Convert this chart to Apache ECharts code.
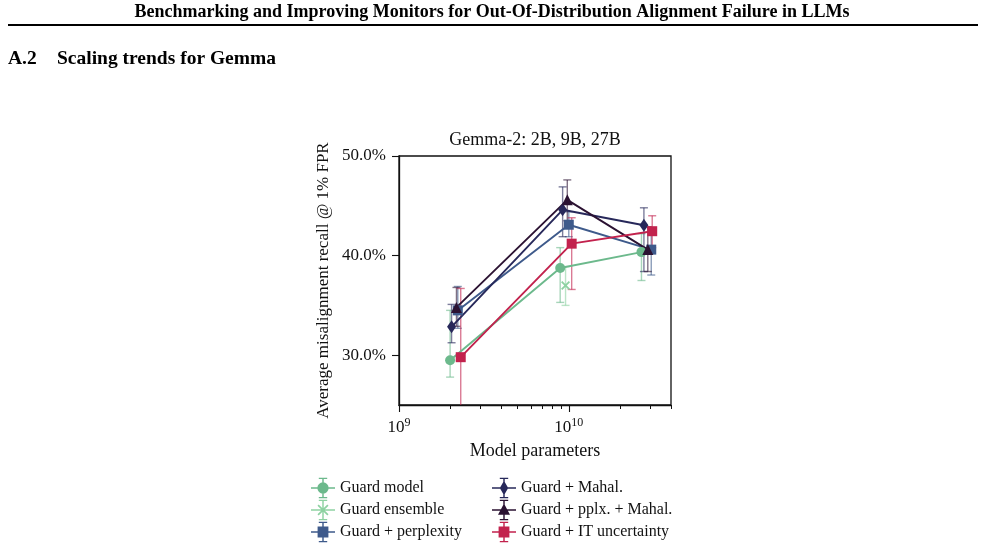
<!DOCTYPE html>
<html>
<head>
<meta charset="utf-8">
<script src="https://cdn.jsdelivr.net/npm/echarts@6/dist/echarts.min.js"></script>
<style>
html,body{margin:0;padding:0;background:#fff;}
#main{width:985px;height:547px;}
</style>
</head>
<body>
<div id="main"></div>
<script>
// model sizes (jittered per method) and recall values
var guardX=[2.0e9,8.9e9,2.68e10];
var guardY=[29.5,38.75,40.35];
var guardLo=[27.8,35.3,37.5];
var guardHi=[34.5,40.8,42.2];

var ensX=[9.57e9];
var ensY=[37.0];
var ensLo=[35.0];
var ensHi=[38.9];

var pplX=[2.22e9,1.0e10,3.06e10];
var pplY=[34.5,43.1,40.6];
var pplLo=[32.7,41.9,38.05];
var pplHi=[36.9,44.4,42.8];

var mahX=[2.04e9,9.2e9,2.77e10];
var mahY=[32.85,44.6,43.05];
var mahLo=[31.25,41.9,38.4];
var mahHi=[35.1,46.9,44.8];

var pmX=[2.18e9,9.8e9,2.92e10];
var pmY=[34.8,45.6,40.6];
var pmLo=[32.9,43.5,38.4];
var pmHi=[36.8,47.6,42.9];

var itX=[2.31e9,1.04e10,3.1e10];
var itY=[29.8,41.2,42.45];
var itLo=[22.5,36.6,40.8];
var itHi=[36.7,43.8,44.0];

var xMin=1e9, xMax=4e10;
var xMajor=[1e9,1e10];
var xMinor=[2e9,3e9,4e9,5e9,6e9,7e9,8e9,9e9,2e10,3e10,4e10];
var yTicks=[30,40,50];

function lg(v){return Math.log10(v);}

// legend icons: line + error bar + marker, in a 20x18 box
var base='M0 8.3H20V9.7H0Z M9.4 1H10.6V17H9.4Z M6.5 0.4H13.5V1.6H6.5Z M6.5 16.4H13.5V17.6H6.5Z ';
var mk={
	circle:'M5.3 9A4.7 4.7 0 1 1 14.7 9A4.7 4.7 0 1 1 5.3 9Z',
	xmark:'M6.4 4.4L10 8L13.6 4.4L14.6 5.4L11 9L14.6 12.6L13.6 13.6L10 10L6.4 13.6L5.4 12.6L9 9L5.4 5.4Z',
	rect:'M5.5 4.5H14.5V13.5H5.5Z',
	diamond:'M10 3L13.5 9L10 15L6.5 9Z',
	tri:'M10 3.5L15 13L5 13Z'
};
var xPath='path://M0 1.4L1.4 0L5 3.6L8.6 0L10 1.4L6.4 5L10 8.6L8.6 10L5 6.4L1.4 10L0 8.6L3.6 5Z';

var methods=[
	{name:'Guard model',x:guardX,y:guardY,lo:guardLo,hi:guardHi,color:'#6cb98c',symbol:'circle',size:10,icon:mk.circle,line:true},
	{name:'Guard ensemble',x:ensX,y:ensY,lo:ensLo,hi:ensHi,color:'#8ed2a2',symbol:xPath,size:9,icon:mk.xmark,line:false},
	{name:'Guard + perplexity',x:pplX,y:pplY,lo:pplLo,hi:pplHi,color:'#3e5a8b',symbol:'rect',size:10,icon:mk.rect,line:true},
	{name:'Guard + Mahal.',x:mahX,y:mahY,lo:mahLo,hi:mahHi,color:'#27285a',symbol:'diamond',size:[9,13],icon:mk.diamond,line:true},
	{name:'Guard + pplx. + Mahal.',x:pmX,y:pmY,lo:pmLo,hi:pmHi,color:'#2b1232',symbol:'triangle',size:11,icon:mk.tri,line:true},
	{name:'Guard + IT uncertainty',x:itX,y:itY,lo:itLo,hi:itHi,color:'#c2224d',symbol:'rect',size:10,icon:mk.rect,line:true}
];

function fade(hex,a){
	var r=parseInt(hex.substr(1,2),16),g=parseInt(hex.substr(3,2),16),b=parseInt(hex.substr(5,2),16);
	return 'rgba('+r+','+g+','+b+','+a+')';
}

var series=[];
methods.forEach(function(m){
	var pts=[],bars=[];
	for(var i=0;i<m.x.length;i++){
		pts.push([lg(m.x[i]),m.y[i]]);
		bars.push([lg(m.x[i]),m.lo[i],m.hi[i]]);
	}
	series.push({
		name:m.name+' err',
		type:'custom',
		z:2,
		clip:true,
		data:bars,
		renderItem:function(params,api){
			var x=api.value(0);
			var top=api.coord([x,api.value(2)]);
			var bot=api.coord([x,api.value(1)]);
			var st={stroke:fade(m.color,0.6),lineWidth:1.4};
			return {type:'group',children:[
				{type:'line',shape:{x1:top[0],y1:top[1],x2:bot[0],y2:bot[1]},style:st},
				{type:'line',shape:{x1:top[0]-4,y1:top[1],x2:top[0]+4,y2:top[1]},style:st},
				{type:'line',shape:{x1:bot[0]-4,y1:bot[1],x2:bot[0]+4,y2:bot[1]},style:st}
			]};
		}
	});
	series.push({
		name:m.name,
		type:'line',
		z:3,
		data:pts,
		symbol:m.symbol,
		symbolSize:m.size,
		showAllSymbol:true,
		itemStyle:{color:m.color,opacity:1},
		lineStyle:{color:m.color,width:m.line?1.9:0},
		emphasis:{disabled:true}
	});
});

var serif='"Liberation Serif","DejaVu Serif",serif';

function legendFor(list,left){
	return {
		left:left,top:477,height:70,orient:'vertical',padding:0,
		itemWidth:24,itemHeight:22,itemGap:0,
		textStyle:{fontFamily:serif,fontSize:16,lineHeight:22,color:'#111'},
		data:list.map(function(m){return {name:m.name,icon:'path://'+base+m.icon};})
	};
}

var myChart=echarts.init(document.getElementById('main'));
var option={
	backgroundColor:'#fff',
	animation:false,
	graphic:[
		{type:'text',x:492,y:3,style:{text:'Benchmarking and Improving Monitors for Out-Of-Distribution Alignment Failure in LLMs',font:'bold 18px '+serif,fill:'#000',textAlign:'center'}},
		{type:'rect',shape:{x:8,y:24,width:970,height:2},style:{fill:'#000'}},
		{type:'text',left:8,top:49,style:{text:'A.2',font:'bold 19.5px '+serif,fill:'#000'}},
		{type:'text',left:57,top:49,style:{text:'Scaling trends for Gemma',font:'bold 19.5px '+serif,fill:'#000'}},
		{type:'text',x:535,y:131,style:{text:'Gemma-2: 2B, 9B, 27B',font:'18px '+serif,fill:'#111',textAlign:'center'}}
	],
	grid:{left:399,top:156,width:272,height:249,show:true,borderColor:'#111',borderWidth:1.3,backgroundColor:'transparent'},
	xAxis:[{
		type:'value',min:lg(xMin),max:lg(xMax),
		name:'Model parameters',nameLocation:'middle',nameGap:37,
		nameTextStyle:{fontFamily:serif,fontSize:18,color:'#111'},
		axisLine:{lineStyle:{color:'#111',width:1.3}},
		axisTick:{customValues:xMajor.map(lg),length:7,lineStyle:{color:'#111',width:1.1}},
		splitLine:{show:false},
		axisLabel:{
			customValues:xMajor.map(lg),margin:12,
			formatter:function(v){return '{b|10}{s|'+Math.round(v)+'}';},
			rich:{
				b:{fontFamily:serif,fontSize:17,color:'#111'},
				s:{fontFamily:serif,fontSize:12,color:'#111',padding:[0,0,10,0]}
			}
		}
	},{
		type:'value',min:lg(xMin),max:lg(xMax),position:'bottom',
		axisLine:{show:false},
		axisTick:{customValues:xMinor.map(lg),length:4,lineStyle:{color:'#111',width:1}},
		axisLabel:{show:false},
		splitLine:{show:false}
	}],
	yAxis:{
		type:'value',min:25,max:50,
		name:'Average misalignment recall @ 1% FPR',nameLocation:'middle',nameGap:67,
		nameTextStyle:{fontFamily:serif,fontSize:17,color:'#111'},
		axisLine:{show:true,lineStyle:{color:'#111',width:1.3}},
		axisTick:{show:true,customValues:yTicks,length:7,lineStyle:{color:'#111',width:1.1}},
		splitLine:{show:false},
		axisLabel:{customValues:yTicks,margin:13,fontFamily:serif,fontSize:17,color:'#111',
			formatter:function(v){return v.toFixed(1)+'%';}}
	},
	legend:[legendFor(methods.slice(0,3),311),legendFor(methods.slice(3),492)],
	series:series
};
myChart.setOption(option);
</script>
</body>
</html>
